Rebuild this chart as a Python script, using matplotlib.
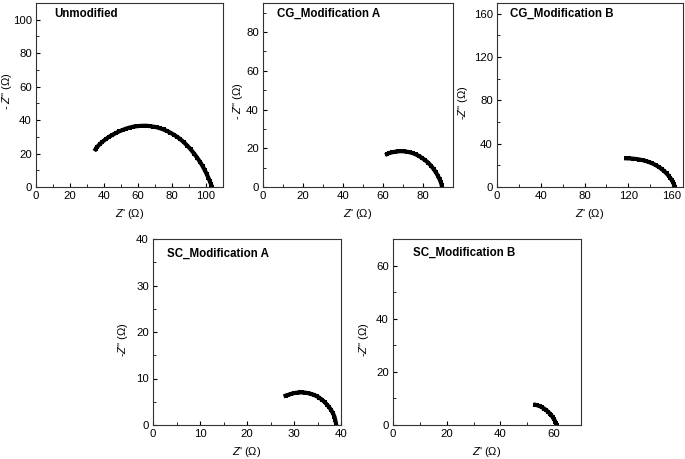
import matplotlib
matplotlib.use("Agg")
import matplotlib.pyplot as plt

plt.rcParams["font.family"] = ["Liberation Sans", "DejaVu Sans"]
plt.rcParams["mathtext.fontset"] = "custom"
plt.rcParams["mathtext.rm"] = "Liberation Sans"
plt.rcParams["mathtext.it"] = "Liberation Sans:italic"

# ---- data (Z' , -Z'') ----
unmod_x = [35, 36, 37.5, 39, 41, 43, 45, 47, 49, 51, 53, 55, 57, 59, 61, 63, 65,
           67, 69, 71, 73, 75, 77, 79, 81, 83, 85, 87, 89, 91, 93, 95, 96.5, 98,
           99.3, 100.5, 101.4, 102.2, 102.8, 103.2, 103.5]
unmod_y = [22.5, 24, 25.6, 27, 28.6, 30, 31.2, 32.3, 33.3, 34.1, 34.9, 35.5, 36, 36.3,
           36.5, 36.6, 36.6, 36.4, 36.1, 35.7, 35.1, 34.4, 33.5, 32.5, 31.3, 30, 28.5,
           26.7, 24.7, 22.5, 20, 17.2, 15, 12.5, 10, 7.5, 5.5, 3.6, 2, 0.9, 0]

cga_x = [62, 63, 64.5, 66, 67.5, 69, 70.5, 72, 73.5, 75, 76.5, 78, 79.5, 81, 82.5,
         84, 85.3, 86.5, 87.5, 88.3, 88.9, 89.3, 89.5]
cga_y = [17, 17.5, 17.9, 18.2, 18.4, 18.5, 18.4, 18.2, 17.9, 17.4, 16.8, 16, 15,
         13.9, 12.6, 11, 9.3, 7.5, 5.7, 4, 2.5, 1.2, 0]

cgb_x = [118, 121, 124, 127, 130, 133, 136, 139, 142, 145, 148, 150.5, 153, 155,
         157, 158.5, 159.8, 160.8, 161.6, 162.2, 162.5]
cgb_y = [26.5, 26.4, 26.2, 25.9, 25.4, 24.8, 24, 23, 21.8, 20.3, 18.5, 16.6, 14.5,
         12.5, 10.2, 8.2, 6.2, 4.4, 2.7, 1.3, 0]

sca_x = [28.2, 28.8, 29.4, 30, 30.6, 31.2, 31.8, 32.4, 33, 33.6, 34.2, 34.8, 35.4,
         36, 36.5, 37, 37.5, 37.9, 38.3, 38.6, 38.8, 39]
sca_y = [6.3, 6.5, 6.7, 6.85, 6.95, 7.0, 7.0, 6.95, 6.85, 6.7, 6.5, 6.2, 5.85,
         5.4, 4.95, 4.4, 3.8, 3.2, 2.5, 1.8, 1.0, 0]

scb_x = [53, 53.8, 54.6, 55.4, 56.2, 57, 57.7, 58.4, 59, 59.5, 60, 60.4, 60.7, 60.9]
scb_y = [7.6, 7.4, 7.1, 6.7, 6.2, 5.6, 5.0, 4.3, 3.6, 2.9, 2.1, 1.3, 0.6, 0]

titles = ["Unmodified", "CG_Modification A", "CG_Modification B",
          "SC_Modification A", "SC_Modification B"]
ylabels = [r"- $Z$'' ($\Omega$)", r"- $Z$'' ($\Omega$)", r"-$Z$'' ($\Omega$)",
           r"-$Z$'' ($\Omega$)", r"-$Z$'' ($\Omega$)"]
limits = [110, 95, 170, 40, 70]
major = [20, 20, 40, 10, 20]

# axes boxes in pixels: left, right, top, bottom
W, H = 685, 459
boxes = [(36, 223, 3, 187), (263, 453, 3, 187), (497, 683, 3, 187),
         (153, 341, 239, 425), (393, 581, 239, 425)]
title_pos = [(0.10, 0.94), (0.075, 0.94), (0.07, 0.94), (0.075, 0.92), (0.105, 0.925)]
ylabel_x = [14, 245, 470, 130, 371]  # pixel x of y-label right edge
ylabel_y = [0.52, 0.47, 0.46, 0.46, 0.46]
series = [(unmod_x, unmod_y), (cga_x, cga_y), (cgb_x, cgb_y),
          (sca_x, sca_y), (scb_x, scb_y)]

fig = plt.figure(figsize=(W / 100, H / 100), dpi=100)

for i in range(5):
    l, r, t, b = boxes[i]
    ax = fig.add_axes([l / W, 1 - b / H, (r - l) / W, (b - t) / H])
    xs, ys = series[i]
    ax.plot(xs, ys, color="black", lw=3, marker="s", ms=3.5, mew=0)
    ax.set_xlim(0, limits[i])
    ax.set_ylim(0, limits[i])
    ax.xaxis.set_major_locator(plt.MultipleLocator(major[i]))
    ax.yaxis.set_major_locator(plt.MultipleLocator(major[i]))
    ax.xaxis.set_minor_locator(plt.MultipleLocator(major[i] / 2))
    ax.yaxis.set_minor_locator(plt.MultipleLocator(major[i] / 2))
    ax.tick_params(which="both", direction="in", labelsize=8.2, pad=3)
    ax.tick_params(which="major", length=3, width=0.8)
    ax.tick_params(which="minor", length=2, width=0.6)
    for s in ax.spines.values():
        s.set_linewidth(0.8)
        s.set_color("#333333")
    ax.set_xlabel(r"$Z$' ($\Omega$)", fontsize=8)
    ax.xaxis.set_label_coords(0.5, -20 / (b - t))
    ax.set_ylabel(ylabels[i], fontsize=8)
    ax.yaxis.set_label_coords((ylabel_x[i] - l) / (r - l), ylabel_y[i])
    tx, ty = title_pos[i]
    ax.text(tx, ty, titles[i], transform=ax.transAxes, fontsize=8.3,
            fontweight="bold", va="center", ha="left")

fig.savefig("out.png", dpi=100)
